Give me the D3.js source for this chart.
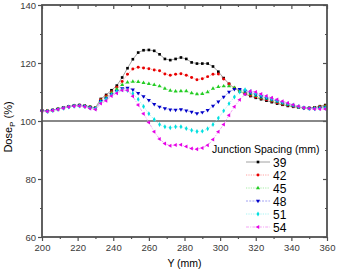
<!DOCTYPE html>
<html>
<head>
<meta charset="utf-8">
<script src="https://cdn.jsdelivr.net/npm/d3@7"></script>
<style>
  body { margin: 0; background: #fff; }
  text { font-family: Arial, "Liberation Sans", sans-serif; }
</style>
</head>
<body>
<div id="chart"></div>
<script>
///////////////////////////////////////////////////////////////////////////
///////////////////////////////// Data ////////////////////////////////////
///////////////////////////////////////////////////////////////////////////
var spacings = ["39", "42", "45", "48", "51", "54"]

var positions = [200, 203, 206, 209, 212, 215, 218, 221, 224, 227, 230, 233, 236, 239, 242, 245, 248, 251,
  254, 257, 260, 263, 266, 269, 272, 275, 278, 281, 284, 287, 290, 293, 296, 299, 302, 305, 308, 311,
  314, 317, 320, 323, 326, 329, 332, 335, 338, 341, 344, 347, 350, 353, 356, 359]

var dose39 = [103.6, 103.5, 103.8, 104.2, 104.6, 105.0, 105.3, 105.5, 105.3, 104.9, 104.6, 107.6, 109.0, 110.6, 112.2, 115.0, 118.2, 121.3,
  123.6, 124.4, 124.5, 124.2, 123.0, 121.4, 121.0, 121.4, 121.9, 121.4, 120.2, 119.8, 119.8, 119.8, 118.8, 117.0, 114.8, 112.8, 111.3, 110.2,
  109.3, 108.6, 108.0, 107.5, 107.0, 106.5, 106.0, 105.6, 105.2, 104.9, 104.7, 104.5, 104.5, 104.7, 105.1, 105.5]
var dose42 = [103.6, 103.5, 103.8, 104.2, 104.6, 105.0, 105.3, 105.4, 105.2, 104.8, 104.5, 107.3, 108.6, 110.1, 111.6, 113.6, 116.1, 117.9,
  118.5, 118.3, 118.0, 117.6, 117.3, 116.2, 115.8, 116.1, 116.3, 115.8, 115.0, 114.2, 114.6, 115.3, 116.1, 116.2, 114.5, 112.8, 111.4, 110.4,
  109.6, 108.9, 108.3, 107.8, 107.3, 106.8, 106.3, 105.8, 105.4, 105.0, 104.7, 104.5, 104.5, 104.6, 104.9, 105.2]
var dose45 = [103.5, 103.4, 103.7, 104.1, 104.5, 104.9, 105.2, 105.3, 105.1, 104.7, 104.4, 107.0, 108.1, 109.6, 111.0, 112.5, 113.3, 113.6,
  113.5, 113.2, 112.8, 112.5, 112.0, 111.2, 110.5, 110.2, 110.3, 110.3, 109.6, 109.3, 109.4, 110.0, 111.2, 111.8, 112.0, 112.0, 111.4, 110.6,
  110.0, 109.3, 108.7, 108.1, 107.6, 107.1, 106.6, 106.1, 105.6, 105.2, 104.8, 104.5, 104.4, 104.5, 104.7, 105.0]
var dose48 = [103.5, 103.4, 103.7, 104.1, 104.5, 104.9, 105.2, 105.3, 105.1, 104.6, 104.3, 106.8, 107.8, 109.2, 110.3, 111.2, 111.4, 110.8,
  109.6, 108.5, 107.2, 105.8, 104.9, 104.3, 103.9, 103.8, 104.0, 103.6, 103.1, 102.6, 103.0, 103.7, 105.2, 106.7, 108.3, 110.0, 111.0, 111.0,
  110.4, 109.7, 109.1, 108.5, 107.9, 107.4, 106.8, 106.3, 105.8, 105.3, 104.9, 104.5, 104.3, 104.3, 104.5, 104.7]
var dose51 = [103.4, 103.3, 103.6, 104.0, 104.4, 104.8, 105.1, 105.2, 105.0, 104.5, 104.2, 106.5, 107.5, 109.0, 110.2, 110.8, 110.5, 109.5,
  107.5, 105.0, 102.5, 100.5, 98.8, 98.0, 97.7, 98.0, 98.0, 97.4, 96.8, 96.4, 96.5, 97.3, 98.8, 101.0, 103.5, 106.0, 108.3, 110.0,
  110.8, 110.2, 109.5, 108.9, 108.3, 107.7, 107.1, 106.5, 106.0, 105.5, 105.0, 104.6, 104.3, 104.2, 104.3, 104.4]
var dose54 = [103.4, 103.3, 103.6, 104.0, 104.4, 104.8, 105.1, 105.2, 104.9, 104.3, 104.0, 106.0, 107.0, 108.6, 109.6, 110.6, 110.6, 108.5,
  105.5, 102.5, 99.5, 96.3, 93.8, 92.2, 91.5, 91.7, 91.8, 91.2, 90.5, 90.3, 90.7, 91.6, 93.6, 96.3, 98.8, 102.0, 104.9, 107.3,
  109.2, 110.3, 110.0, 109.3, 108.6, 108.0, 107.4, 106.8, 106.2, 105.6, 105.1, 104.6, 104.3, 104.1, 104.1, 104.1]

var allDose = [dose39, dose42, dose45, dose48, dose51, dose54]

var xTicks = [200, 220, 240, 260, 280, 300, 320, 340, 360]
var yTicks = [60, 80, 100, 120, 140]

///////////////////////////////////////////////////////////////////////////
///////////////////////////////// Globals /////////////////////////////////
///////////////////////////////////////////////////////////////////////////
var totalWidth = 338
var totalHeight = 273
var margin = { top: 5, right: 11, bottom: 36, left: 42 }
var width = totalWidth - margin.left - margin.right
var height = totalHeight - margin.top - margin.bottom
var axisColor = "#505050"

var markerColors = ["#000000", "#e80000", "#22cc22", "#0000c8", "#00e0e0", "#e600e6"]
var lineColors = ["#8a8a8a", "#ff8a8a", "#90e890", "#8c8cf0", "#90f0f0", "#f090f0"]
var lineDash = [null, "1.2,1.2", "1.2,1.2", "2,1.2", "1.2,1.2", "3,1.2,1,1.2"]
var symbols = [
  { type: d3.symbolSquare, rot: 0, size: 7 },
  { type: d3.symbolCircle, rot: 0, size: 7 },
  { type: d3.symbolTriangle, rot: 0, size: 7 },
  { type: d3.symbolTriangle, rot: 180, size: 7 },
  { type: d3.symbolDiamond, rot: 0, size: 7 },
  { type: d3.symbolTriangle, rot: -90, size: 7 }
]

///////////////////////////////////////////////////////////////////////////
//////////////////// Set up and initiate containers ///////////////////////
///////////////////////////////////////////////////////////////////////////
var svg = d3.select("#chart").append("svg")
  .attr("width", totalWidth)
  .attr("height", totalHeight)

var g = svg.append("g")
  .attr("transform", "translate(" + margin.left + "," + margin.top + ")")

///////////////////////////////////////////////////////////////////////////
///////////////////////////// Create scales ///////////////////////////////
///////////////////////////////////////////////////////////////////////////
var xScale = d3.scaleLinear().domain([200, 360]).range([0, width])
var yScale = d3.scaleLinear().domain([60, 140]).range([height, 0])

///////////////////////////////////////////////////////////////////////////
//////////////////////////////// Axes /////////////////////////////////////
///////////////////////////////////////////////////////////////////////////
function styleAxis(sel) {
  sel.select(".domain").remove()
  sel.selectAll("line").attr("stroke", axisColor).attr("stroke-width", 1.2)
  sel.selectAll("text").attr("fill", "#3a3a3a").style("font-size", "9.5px")
}

// bottom: major with labels, minor without
g.append("g").attr("transform", "translate(0," + height + ")")
  .call(d3.axisBottom(xScale).tickValues(xTicks).tickSize(4).tickPadding(3))
  .call(styleAxis)
g.append("g").attr("transform", "translate(0," + height + ")")
  .call(d3.axisBottom(xScale).tickValues(d3.range(210, 360, 20)).tickSize(2).tickFormat(""))
  .call(styleAxis)
// top: inward
g.append("g")
  .call(d3.axisBottom(xScale).tickValues(xTicks).tickSize(4).tickFormat(""))
  .call(styleAxis)
g.append("g")
  .call(d3.axisBottom(xScale).tickValues(d3.range(210, 360, 20)).tickSize(2).tickFormat(""))
  .call(styleAxis)

// left
g.append("g")
  .call(d3.axisLeft(yScale).tickValues(yTicks).tickSize(4).tickPadding(2))
  .call(styleAxis)
g.append("g")
  .call(d3.axisLeft(yScale).tickValues([70, 90, 110, 130]).tickSize(2).tickFormat(""))
  .call(styleAxis)
// right: inward
g.append("g").attr("transform", "translate(" + width + ",0)")
  .call(d3.axisLeft(yScale).tickValues(yTicks).tickSize(4).tickFormat(""))
  .call(styleAxis)
g.append("g").attr("transform", "translate(" + width + ",0)")
  .call(d3.axisLeft(yScale).tickValues([70, 90, 110, 130]).tickSize(2).tickFormat(""))
  .call(styleAxis)

// reference line at 100 %
g.append("line")
  .attr("x1", 0).attr("x2", width)
  .attr("y1", yScale(100)).attr("y2", yScale(100))
  .attr("stroke", "#606060").attr("stroke-width", 1.3)

///////////////////////////////////////////////////////////////////////////
/////////////////////////////// Series ////////////////////////////////////
///////////////////////////////////////////////////////////////////////////
var line = d3.line()
  .x((d, i) => xScale(positions[i]))
  .y(d => yScale(d))

allDose.forEach((values, s) => {
  g.append("path")
    .datum(values)
    .attr("fill", "none")
    .attr("stroke", lineColors[s])
    .attr("stroke-width", 0.8)
    .attr("stroke-dasharray", lineDash[s])
    .attr("d", line)

  var sym = d3.symbol().type(symbols[s].type).size(symbols[s].size)
  g.append("g").selectAll("path")
    .data(values)
    .enter().append("path")
      .attr("d", sym)
      .attr("fill", markerColors[s])
      .attr("transform", (d, i) => "translate(" + xScale(positions[i]) + "," + yScale(d) + ") rotate(" + symbols[s].rot + ")")
})

// frame drawn on top
g.append("rect")
  .attr("width", width).attr("height", height)
  .attr("fill", "none")
  .attr("stroke", axisColor)
  .attr("stroke-width", 1.8)

///////////////////////////////////////////////////////////////////////////
/////////////////////////////// Labels ////////////////////////////////////
///////////////////////////////////////////////////////////////////////////
svg.append("text")
  .attr("x", margin.left + width / 2)
  .attr("y", 267)
  .attr("text-anchor", "middle")
  .style("font-size", "10.5px")
  .text("Y (mm)")

var yLab = svg.append("text")
  .attr("transform", "translate(12,127) rotate(-90)")
  .attr("text-anchor", "middle")
  .style("font-size", "11px")
yLab.append("tspan").text("Dose")
yLab.append("tspan").attr("dy", 3).style("font-size", "8px").text("P")
yLab.append("tspan").attr("dy", -3).text(" (%)")

///////////////////////////////////////////////////////////////////////////
/////////////////////////////// Legend ////////////////////////////////////
///////////////////////////////////////////////////////////////////////////
var legend = svg.append("g").attr("transform", "translate(212,0)")

legend.append("text")
  .attr("x", 0).attr("y", 153)
  .style("font-size", "10.5px")
  .text("Junction Spacing (mm)")

spacings.forEach((label, s) => {
  var yy = 162 + s * 13
  legend.append("line")
    .attr("x1", 34).attr("x2", 58)
    .attr("y1", yy).attr("y2", yy)
    .attr("stroke", lineColors[s])
    .attr("stroke-width", 0.8)
    .attr("stroke-dasharray", lineDash[s])
  legend.append("path")
    .attr("d", d3.symbol().type(symbols[s].type).size(symbols[s].size)())
    .attr("fill", markerColors[s])
    .attr("transform", "translate(46," + yy + ") rotate(" + symbols[s].rot + ")")
  legend.append("text")
    .attr("x", 61).attr("y", yy + 4.5)
    .style("font-size", "12px")
    .text(label)
})
</script>
</body>
</html>
